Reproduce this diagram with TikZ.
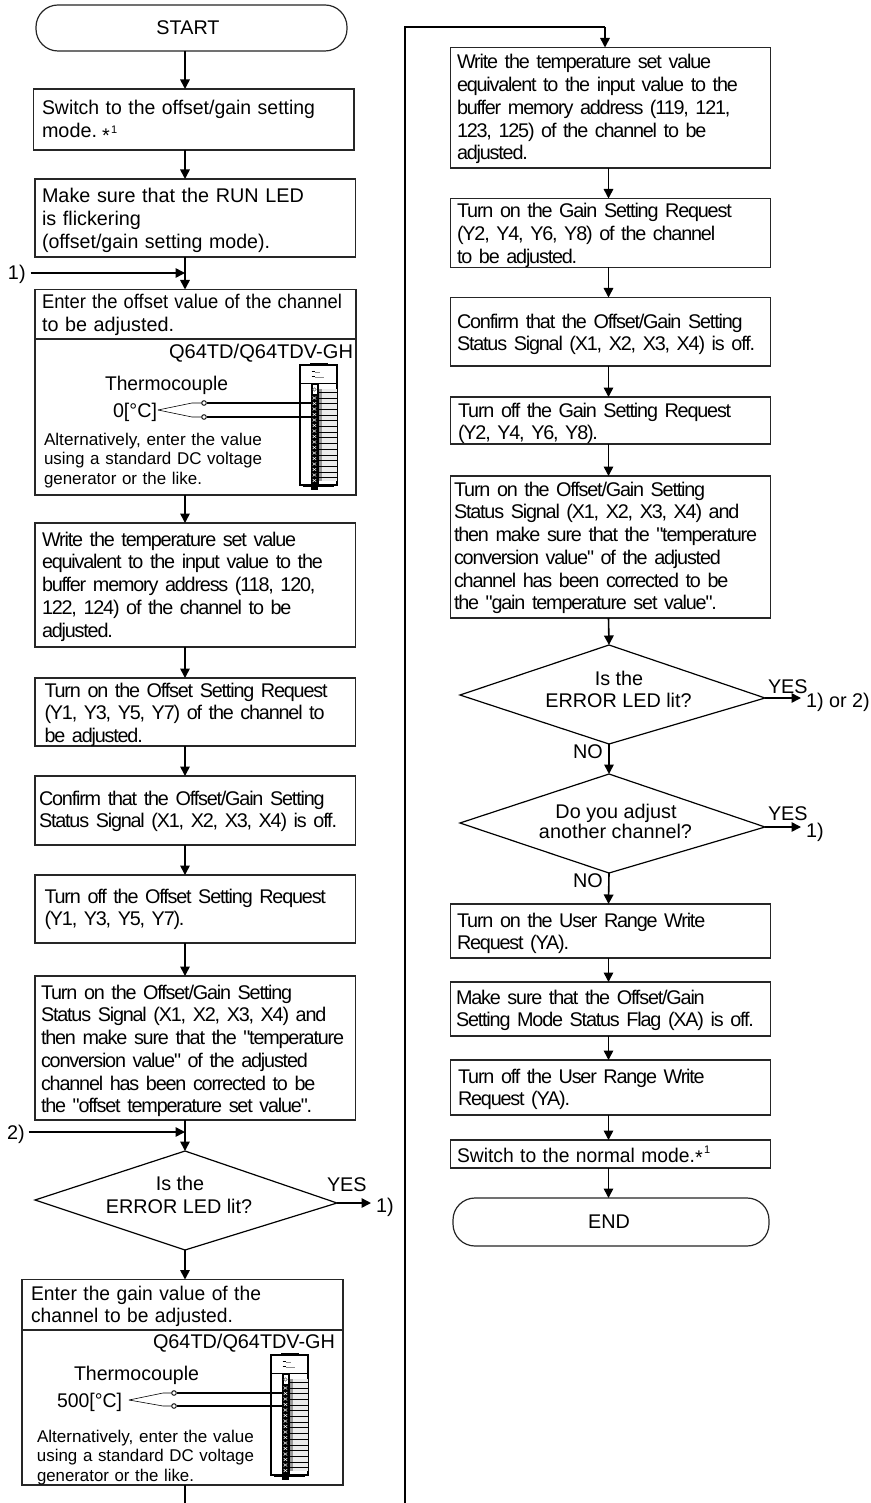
\documentclass[tikz,border=0pt]{standalone}
\usepackage{graphicx}
\usepackage{fontspec}
\setmainfont{Liberation Sans}
\newfontfamily\tightf[LetterSpace=-6]{Liberation Sans}
\usetikzlibrary{arrows.meta,calc}
% one line stretched by its word spaces, with tracked-in letters
\newcommand\Ws[2]{\makebox[#1pt][s]{\tightf #2}}
% one line scaled horizontally to a given width
\newcommand\Rz[2]{\resizebox{#1pt}{\height}{#2}}
\newcommand\astk[3]{\kern#1pt\raisebox{#2pt}{*}\kern1.5pt\raisebox{#3pt}{\fontsize{11}{11}\selectfont 1}}
\tikzset{
  box/.style={draw=black!85,line width=1.2pt,fill=white,inner sep=0pt,outer sep=0pt},
  term/.style={box,rounded corners=22pt},
  para/.style={anchor=north west,inner sep=0pt,outer sep=0pt,text width=345pt,align=left,
    font=\fontsize{19.8}{22.75}\selectfont,yshift=15.925pt},
  small/.style={anchor=north west,inner sep=0pt,outer sep=0pt,text width=345pt,align=left,
    font=\fontsize{17}{19.8}\selectfont,yshift=13.86pt},
  lbl/.style={anchor=base west,inner sep=0pt,outer sep=0pt,font=\fontsize{19.8}{22.75}\selectfont},
  clbl/.style={lbl,anchor=base},
  arr/.style={line width=1.6pt,black,-{Triangle[length=9.5pt,width=9.5pt]}},
  flow/.style={line width=1.6pt,black},
  dia/.style={draw=black,line width=1.2pt,line join=miter},
  thin wire/.style={line width=.6pt,black},
  wire/.style={line width=1.5pt,black},
  pin/.style={circle,draw=black,line width=.9pt,fill=white,inner sep=0pt,minimum size=4.6pt},
  plcmodule/.pic={
    \draw[line width=1pt,fill=white] (10,0) rectangle (27,-2);
    \draw[line width=1.3pt,fill=white] (0,0) rectangle (37,120);
    \draw[line width=1.1pt] (0,18.5) -- (37,18.5);
    \draw[line width=1.3pt] (11.5,6.7) -- (15,6.7) (11.5,11.7) -- (15,11.7);
    \draw[line width=.4pt,black!45] (15,6.7) -- (20,6.7) (15,11.7) -- (24,11.7);
    \fill[black!8] (18,24) rectangle (37,116);
    \fill[black!40] (18,24) rectangle (22,116);
    \fill[black] (11,18.5) rectangle (18,120);
    \fill[white] (12.5,19.5) rectangle (16.5,29);
    \draw[line width=.6pt,black!60] (14.5,24.5) circle (1.8);
    \foreach \i in {0,...,15}{
      \draw[line width=.5pt,white] (12.6,31.5+5.5*\i) -- (16.2,34.5+5.5*\i) (12.6,34.5+5.5*\i) -- (16.2,31.5+5.5*\i);
      \draw[line width=.4pt,black] (18,27+5.7*\i) -- (37,27+5.7*\i);
    }
    \draw[line width=1.1pt] (18,18.5) -- (18,120);
    \draw[line width=1.6pt] (3,121.5) -- (34,121.5);
    \fill[black] (11,122) rectangle (18,125);
  }
}
\newcommand\BOX[6][box]{\node[#1,minimum width=#5pt-#3pt,minimum height=#6pt-#4pt] (#2) at ({(#3+#5)/2},{(#4+#6)/2}) {};}
\newcommand\TB[4]{\node[para] (#1) at (#2,#3) {\strut#4};}
\newcommand\SB[4]{\node[small] (#1) at (#2,#3) {\strut#4};}
\newcommand\DIA[8]{%
  \coordinate (#1t) at (#2,#3); \coordinate (#1l) at (#4,#5);
  \coordinate (#1r) at (#6,#7); \coordinate (#1b) at (#2,#8);
  \draw[dia] (#1t) -- (#1l) -- (#1b) -- (#1r) -- cycle;}
\begin{document}
\begin{tikzpicture}[x=1pt,y=-1pt]
\useasboundingbox (0,0) rectangle (870,1503);
\fill[white] (0,0) rectangle (870,1503);
\coordinate (cL) at (185,0);
\coordinate (cT) at (605,0);
\coordinate (cR) at (608.5,0);

%% ---------- left column ----------
\BOX[term]{start}{36}{5}{347}{51}
\node[clbl] (startT) at (188,35) {START};

\BOX{sw}{33.5}{89}{354}{150}
\TB{swT}{42}{115}{\Rz{273}{Switch to the offset/gain setting}\\mode.\astk{5}{-5}{4}}

\BOX{mk}{35}{179}{355.5}{257}
\TB{mkT}{42}{203}{Make sure that the RUN LED\\is flickering\\\Rz{228}{(offset/gain setting mode).}}

\node[lbl] (l1) at (8,280) {1)};
\coordinate (j1) at (185,273);

\BOX{of}{35}{289.5}{356}{495}
\draw[line width=1.2pt,black!85] (of.west |- 0,339) -- (of.east |- 0,339);
\TB{ofT}{42}{309}{\Rz{300}{Enter the offset value of the channel}\\to be adjusted.}
\node[lbl] (ofQ) at (169,358) {\Rz{184}{Q64TD/Q64TDV-GH}};
\node[lbl] (ofTc) at (105,390) {\Rz{123}{Thermocouple}};
\node[lbl] (ofC) at (113,417) {\Rz{44}{0[°C]}};
\SB{ofA}{44}{445}{\Rz{218}{Alternatively, enter the value}\\\Rz{218}{using a standard DC voltage}\\\Rz{158}{generator or the like.}}
\pic (m1) at (300,365) {plcmodule};
\node[pin] (p1a) at (204,403) {};
\node[pin] (p1b) at (204,417) {};
\coordinate (w1) at (158,410);
\coordinate (w1a) at (192,403);
\coordinate (w1b) at (192,417);
\draw[thin wire] (w1) -- (w1a) -- (p1a);
\draw[thin wire] (w1) -- (w1b) -- (p1b);
\coordinate (m1a) at (313,403);
\coordinate (m1b) at (313,417);
\draw[wire] (p1a) -- (m1a);
\draw[wire] (p1b) -- (m1b);

\BOX{wr}{35}{523}{355.5}{647}
\TB{wrT}{42}{546}{\Ws{263}{Write the temperature set value}\\\Ws{292}{equivalent to the input value to the}\\\Ws{283}{buffer memory address (118, 120,}\\\Ws{260}{122, 124) of the channel to be}\\\Ws{70}{adjusted.}}

\BOX{on}{35}{678}{355.5}{746}
\TB{onT}{44.5}{697}{\Ws{294.5}{Turn on the Offset Setting Request}\\\Ws{292.5}{(Y1, Y3, Y5, Y7) of the channel to}\\\Ws{98.5}{be adjusted.}}

\BOX{cf}{35}{776}{355.5}{845}
\TB{cfT}{39}{805}{\Ws{295}{Confirm that the Offset/Gain Setting}\\\Ws{312}{Status Signal (X1, X2, X3, X4) is off.}}

\BOX{ff}{35}{875}{355.5}{943}
\TB{ffT}{44.5}{903}{\Ws{293.5}{Turn off the Offset Setting Request}\\\Ws{143.5}{(Y1, Y3, Y5, Y7).}}

\BOX{og}{35}{976}{355.5}{1120}
\TB{ogT}{41}{999}{\Ws{257}{Turn on the Offset/Gain Setting}\\\Ws{293}{Status Signal (X1, X2, X3, X4) and}\\\Ws{310}{then make sure that the "temperature}\\\Ws{272}{conversion value" of the adjusted}\\\Ws{282}{channel has been corrected to be}\\\Ws{277}{the "offset temperature set value".}}

\node[lbl] (l2) at (7,1139) {2)};
\coordinate (j2) at (185,1132);

\DIA{da}{185}{1151}{35}{1200}{337}{1203}{1250}
\node[clbl] (daT1) at (180,1190) {Is the};
\node[clbl] (daT2) at (179,1213) {ERROR LED lit?};
\node[lbl] (daY) at (327,1191) {YES};
\node[lbl] (daX) at (376,1212) {1)};

\BOX{gn}{22}{1279.5}{343}{1485}
\draw[line width=1.2pt,black!85] (gn.west |- 0,1330) -- (gn.east |- 0,1330);
\TB{gnT}{31}{1300}{\Rz{230}{Enter the gain value of the}\\\Rz{202}{channel to be adjusted.}}
\node[lbl] (gnQ) at (153,1348) {\Rz{182}{Q64TD/Q64TDV-GH}};
\node[lbl] (gnTc) at (74,1380) {\Rz{125}{Thermocouple}};
\node[lbl] (gnC) at (57,1407) {\Rz{65}{500[°C]}};
\SB{gnA}{37}{1442}{\Rz{217}{Alternatively, enter the value}\\\Rz{217}{using a standard DC voltage}\\\Rz{157}{generator or the like.}}
\pic (m2) at (271,1355) {plcmodule};
\node[pin] (p2a) at (174,1393) {};
\node[pin] (p2b) at (174,1406) {};
\coordinate (w2) at (129,1400);
\coordinate (w2a) at (163,1393);
\coordinate (w2b) at (163,1406);
\draw[thin wire] (w2) -- (w2a) -- (p2a);
\draw[thin wire] (w2) -- (w2b) -- (p2b);
\coordinate (m2a) at (284,1393);
\coordinate (m2b) at (284,1406);
\draw[wire] (p2a) -- (m2a);
\draw[wire] (p2b) -- (m2b);

\coordinate (botL) at (185,1503);

%% ---------- right column ----------
\coordinate (botR) at (405,1503);
\coordinate (topL) at (405,27);
\coordinate (topR) at (605,27);

\BOX{wr2}{450.5}{47.5}{770.5}{168}
\TB{wr2T}{457}{69}{\Ws{263}{Write the temperature set value}\\\Ws{292}{equivalent to the input value to the}\\\Ws{283}{buffer memory address (119, 121,}\\\Ws{260}{123, 125) of the channel to be}\\\Ws{70}{adjusted.}}

\BOX{on2}{450.5}{198.5}{770.5}{267.5}
\TB{on2T}{457}{218}{\Ws{285}{Turn on the Gain Setting Request}\\\Ws{268}{(Y2, Y4, Y6, Y8) of the channel}\\\Ws{123}{to be adjusted.}}

\BOX{cf2}{450.5}{297.5}{770.5}{366}
\TB{cf2T}{457}{328}{\Ws{295}{Confirm that the Offset/Gain Setting}\\\Ws{311}{Status Signal (X1, X2, X3, X4) is off.}}

\BOX{ff2}{450.5}{397}{770.5}{444}
\TB{ff2T}{458}{417}{\Ws{285}{Turn off the Gain Setting Request}\\\Ws{145}{(Y2, Y4, Y6, Y8).}}

\BOX{og2}{450.5}{476}{770.5}{618}
\TB{og2T}{454}{496}{\Ws{261}{Turn on the Offset/Gain Setting}\\\Ws{298}{Status Signal (X1, X2, X3, X4) and}\\\Ws{314}{then make sure that the "temperature}\\\Ws{276}{conversion value" of the adjusted}\\\Ws{284}{channel has been corrected to be}\\\Ws{272}{the "gain temperature set value".}}

\DIA{db}{609}{645}{460}{695}{765}{698}{744}
\node[clbl] (dbT1) at (619,685) {Is the};
\node[clbl] (dbT2) at (618.5,707) {ERROR LED lit?};
\node[lbl] (dbY) at (768,693) {YES};
\node[lbl] (dbX) at (806,707) {1) or 2)};
\node[lbl] (dbN) at (573,758) {NO};

\DIA{dc}{609}{774}{460}{823}{765}{827}{873}
\node[clbl] (dcT1) at (616,818) {Do you adjust};
\node[clbl] (dcT2) at (615.5,838) {another channel?};
\node[lbl] (dcY) at (768,820) {YES};
\node[lbl] (dcX) at (806,837) {1)};
\node[lbl] (dcN) at (573,887) {NO};

\BOX{ur}{450.5}{904}{770.5}{958}
\TB{urT}{457}{927}{\Ws{258}{Turn on the User Range Write}\\\Ws{115}{Request (YA).}}

\BOX{ms}{450.5}{982}{770.5}{1036}
\TB{msT}{456}{1004}{\Ws{257}{Make sure that the Offset/Gain}\\\Ws{311}{Setting Mode Status Flag (XA) is off.}}

\BOX{uf}{450.5}{1060}{770.5}{1115}
\TB{ufT}{458}{1083}{\Ws{258}{Turn off the User Range Write}\\\Ws{115}{Request (YA).}}

\BOX{sn}{450.5}{1140}{770.5}{1168}
\TB{snT}{457}{1162}{\Rz{238}{Switch to the normal mode.}\astk{0}{-2}{9}}

\BOX[term]{en}{453}{1198}{769}{1246}
\node[clbl] (enT) at (609,1228) {END};

%% ---------- connectors ----------
\draw[arr] (cL |- start.south) -- (cL |- sw.north);
\draw[arr] (cL |- sw.south) -- (cL |- mk.north);
\draw[arr] (cL |- mk.south) -- (cL |- of.north);
\draw[arr] ([xshift=5pt]l1.east |- j1) -- (j1);
\draw[arr] (cL |- of.south) -- (cL |- wr.north);
\draw[arr] (cL |- wr.south) -- (cL |- on.north);
\draw[arr] (cL |- on.south) -- (cL |- cf.north);
\draw[arr] (cL |- cf.south) -- (cL |- ff.north);
\draw[arr] (cL |- ff.south) -- (cL |- og.north);
\draw[arr] (cL |- og.south) -- (dat);
\draw[arr] ([xshift=4pt]l2.east |- j2) -- (j2);
\coordinate (daE) at (371,1203);
\draw[arr] (dar) -- (daE);
\draw[arr] (dab) -- (cL |- gn.north);
\draw[flow] (cL |- gn.south) -- (botL);
\draw[flow] (botR) -- (topL) -- (topR);
\draw[arr] (topR) -- (cT |- wr2.north);
\draw[arr] (cR |- wr2.south) -- (cR |- on2.north);
\draw[arr] (cR |- on2.south) -- (cR |- cf2.north);
\draw[arr] (cR |- cf2.south) -- (cR |- ff2.north);
\draw[arr] (cR |- ff2.south) -- (cR |- og2.north);
\draw[arr] (cR |- og2.south) -- (dbt);
\coordinate (dbE) at (801,698);
\draw[arr] (dbr) -- (dbE);
\draw[arr] (dbb) -- (dct);
\coordinate (dcE) at (801,827);
\draw[arr] (dcr) -- (dcE);
\draw[arr] (dcb) -- (cR |- ur.north);
\draw[arr] (cR |- ur.south) -- (cR |- ms.north);
\draw[arr] (cR |- ms.south) -- (cR |- uf.north);
\draw[arr] (cR |- uf.south) -- (cR |- sn.north);
\draw[arr] (cR |- sn.south) -- (cR |- en.north);
\end{tikzpicture}
\end{document}
